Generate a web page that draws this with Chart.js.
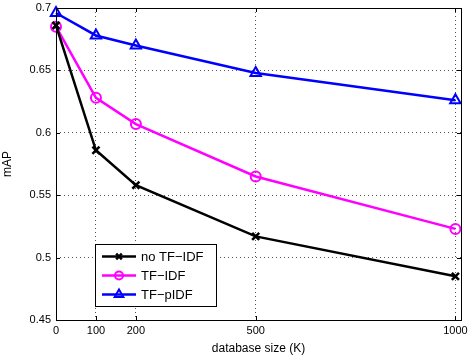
<!DOCTYPE html>
<html>
<head>
<meta charset="utf-8">
<script src="https://cdn.jsdelivr.net/npm/chart.js@4/dist/chart.umd.min.js"></script>
<style>
  html, body { margin: 0; padding: 0; background: #fff; }
  #wrap { width: 469px; height: 360px; }
</style>
</head>
<body>
<div id="wrap"><canvas id="mapChart"></canvas></div>
<script>
// database size (K)
const dbSizes = [0, 100, 200, 500, 1000];
const xTicks = [0, 100, 200, 500, 1000];
const yTicks = [0.45, 0.5, 0.55, 0.6, 0.65, 0.7];

const noTfIdf = [0.686, 0.586, 0.558, 0.517, 0.485];
const tfIdf = [0.685, 0.628, 0.607, 0.565, 0.523];
const tfPIdf = [0.696, 0.678, 0.670, 0.648, 0.626];

const font = "Liberation Sans, Arial, Helvetica, sans-serif";

function toPoints(ys) {
    return dbSizes.map((x, i) => ({ x: x, y: ys[i] }));
}

// matlab-ish frame, inside ticks and legend box
const matlabBox = {
    id: 'matlabBox',
    afterDraw(chart) {
        const ctx = chart.ctx;
        const a = chart.chartArea;
        const xs = chart.scales.x, ys = chart.scales.y;
        ctx.save();
        ctx.strokeStyle = '#000';
        ctx.lineWidth = 1;
        ctx.setLineDash([]);
        ctx.strokeRect(Math.round(a.left) + 0.5, Math.round(a.top) + 0.5,
            Math.round(a.right - a.left), Math.round(a.bottom - a.top));
        ctx.beginPath();
        xTicks.forEach(t => {
            const px = Math.round(xs.getPixelForValue(t)) + 0.5;
            ctx.moveTo(px, a.bottom); ctx.lineTo(px, a.bottom - 4);
            ctx.moveTo(px, a.top); ctx.lineTo(px, a.top + 4);
        });
        yTicks.forEach(t => {
            const py = Math.round(ys.getPixelForValue(t)) + 0.5;
            ctx.moveTo(a.left, py); ctx.lineTo(a.left + 4, py);
            ctx.moveTo(a.right, py); ctx.lineTo(a.right - 4, py);
        });
        ctx.stroke();

        // legend
        const lx = 95, ly = 244, lw = 121, lh = 62;
        ctx.fillStyle = '#fff';
        ctx.fillRect(lx, ly, lw, lh);
        ctx.strokeRect(lx + 0.5, ly + 0.5, lw, lh);
        ctx.font = '13px ' + font;
        ctx.textBaseline = 'middle';
        chart.data.datasets.forEach((ds, i) => {
            const cy = ly + 12.5 + i * 19;
            ctx.strokeStyle = ds.borderColor;
            ctx.lineWidth = 2.5;
            ctx.beginPath();
            ctx.moveTo(lx + 7, cy); ctx.lineTo(lx + 41, cy);
            ctx.stroke();
            ctx.fillStyle = 'rgba(0,0,0,0)';
            ctx.lineWidth = ds.pointBorderWidth;
            Chart.helpers.drawPoint(ctx, {
                pointStyle: ds.pointStyle,
                radius: ds.pointRadius - 1,
                borderWidth: ds.pointBorderWidth,
                rotation: 0
            }, lx + 24, cy);
            ctx.fillStyle = '#000';
            ctx.fillText(ds.label, lx + 46, cy + 1);
        });
        ctx.restore();
    }
};

const ctx = document.getElementById('mapChart').getContext('2d');

new Chart(ctx, {
    type: 'line',
    data: {
        datasets: [
            {
                label: 'no TF\u2212IDF',
                data: toPoints(noTfIdf),
                borderColor: '#000000',
                backgroundColor: 'rgba(0,0,0,0)',
                pointStyle: 'crossRot',
                pointRadius: 5,
                pointBorderWidth: 2.5,
                borderWidth: 2.5,
                tension: 0,
                clip: false
            },
            {
                label: 'TF\u2212IDF',
                data: toPoints(tfIdf),
                borderColor: '#ff00ff',
                backgroundColor: 'rgba(0,0,0,0)',
                pointStyle: 'circle',
                pointRadius: 5,
                pointBorderWidth: 2,
                borderWidth: 2.5,
                tension: 0,
                clip: false
            },
            {
                label: 'TF\u2212pIDF',
                data: toPoints(tfPIdf),
                borderColor: '#0000ff',
                backgroundColor: 'rgba(0,0,0,0)',
                pointStyle: 'triangle',
                pointRadius: 6,
                pointBorderWidth: 2,
                borderWidth: 2.5,
                tension: 0,
                clip: false
            }
        ]
    },
    options: {
        responsive: true,
        maintainAspectRatio: false,
        animation: false,
        events: [],
        layout: { padding: { top: 5, right: 6, left: 0, bottom: 0 } },
        plugins: {
            legend: { display: false },
            tooltip: { enabled: false }
        },
        scales: {
            x: {
                type: 'linear',
                min: 0,
                max: 1014,
                afterBuildTicks: s => { s.ticks = xTicks.map(v => ({ value: v })); },
                afterFit: s => { s.height = 40; s.paddingLeft = 0; s.paddingRight = 0; },
                border: { display: false, dash: [1, 3] },
                grid: {
                    color: '#555',
                    lineWidth: 1,
                    tickLength: 0
                },
                ticks: {
                    color: '#000',
                    font: { family: font, size: 11 },
                    padding: 4,
                    maxRotation: 0,
                    autoSkip: false,
                    callback: v => String(v)
                },
                title: {
                    display: true,
                    text: 'database size (K)',
                    color: '#000',
                    font: { family: font, size: 12 },
                    padding: { top: 0, bottom: 4 }
                }
            },
            y: {
                min: 0.45,
                max: 0.7,
                afterBuildTicks: s => { s.ticks = yTicks.map(v => ({ value: v })); },
                afterFit: s => { s.width = 56; s.paddingTop = 0; s.paddingBottom = 0; },
                border: { display: false, dash: [1, 3] },
                grid: {
                    color: '#555',
                    lineWidth: 1,
                    tickLength: 0
                },
                ticks: {
                    color: '#000',
                    font: { family: font, size: 11 },
                    padding: 5,
                    callback: v => String(+v.toFixed(2))
                },
                title: {
                    display: true,
                    text: 'mAP',
                    color: '#000',
                    font: { family: font, size: 12 },
                    padding: { top: 0, bottom: 0 }
                }
            }
        }
    },
    plugins: [matlabBox]
});
</script>
</body>
</html>
